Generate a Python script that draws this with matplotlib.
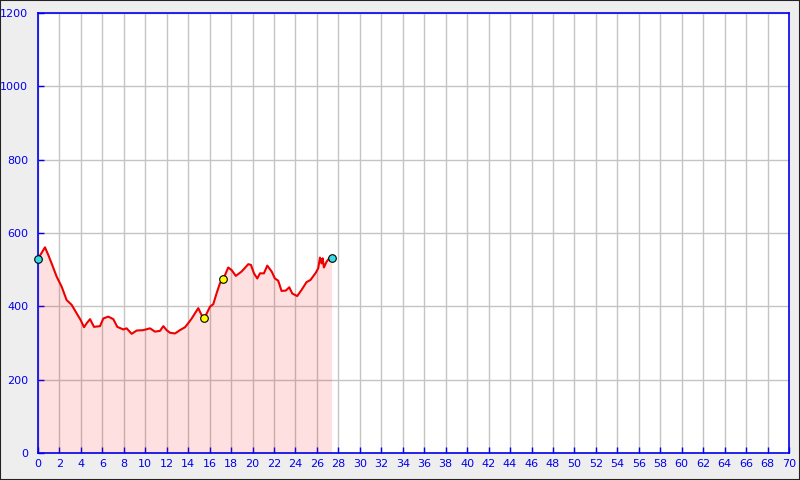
import matplotlib
matplotlib.use("Agg")
import matplotlib.pyplot as plt
from matplotlib.patches import Rectangle

# distance (km) and elevation (m) of the profile
dist = [0.0, 0.34, 0.65, 0.96, 1.27, 1.74, 2.2, 2.67, 3.14, 3.6, 3.97, 4.29,
        4.54, 4.85, 5.22, 5.78, 6.09, 6.55, 7.02, 7.39, 7.95, 8.26, 8.73,
        9.2, 9.8, 10.44, 10.9, 11.37, 11.68, 11.99, 12.3, 12.77, 13.23,
        13.7, 14.0, 14.33, 14.63, 14.94, 15.25, 15.5, 16.03, 16.34, 16.65,
        16.96, 17.27, 17.73, 18.04, 18.44, 18.98, 19.6, 19.85, 20.13, 20.44,
        20.69, 21.06, 21.37, 21.78, 22.08, 22.39, 22.7, 23.1, 23.42, 23.7,
        24.16, 24.57, 25.03, 25.4, 25.9, 26.12, 26.28, 26.43, 26.53, 26.65,
        26.9, 27.15, 27.37]
elev = [530, 546, 561, 540, 517, 481, 454, 417, 404, 381, 363, 343,
        354, 365, 344, 346, 367, 372, 365, 344, 337, 340, 325,
        334, 335, 340, 331, 333, 346, 335, 328, 326, 335,
        343, 354, 367, 381, 395, 376, 367, 399, 406, 436,
        463, 474, 506, 499, 483, 495, 515, 513, 490, 476,
        490, 490, 511, 495, 476, 470, 442, 443, 452, 435,
        428, 445, 466, 472, 492, 504, 533, 517, 531, 506,
        522, 531, 531]

# marked waypoints
end_x = [0.0, 27.37]
end_y = [530, 531]
mid_x = [15.5, 17.27]
mid_y = [367, 474]

x_ticks = list(range(0, 71, 2))
y_ticks = list(range(0, 1201, 200))

blue = "#0000ee"

fig = plt.figure(figsize=(8, 4.8), dpi=100, facecolor="#eeeeee")
fig.patches.append(Rectangle((0, 0), 1, 1, transform=fig.transFigure,
                             fill=False, edgecolor="#222222", linewidth=1.5))
ax = fig.add_axes([38 / 800, 27 / 480, 751 / 800, 440 / 480])
ax.set_facecolor("white")

# translucent fill so the grid shows through
ax.fill_between(dist, elev, 0, color="#ff0000", alpha=0.12, linewidth=0,
                zorder=1)
ax.plot(dist, elev, color="#ee0000", linewidth=1.5, zorder=3)
ax.scatter(end_x, end_y, s=30, color="#33dde8", edgecolor="black",
           linewidth=0.8, zorder=5, clip_on=False)
ax.scatter(mid_x, mid_y, s=30, color="#ffff00", edgecolor="black",
           linewidth=0.8, zorder=5, clip_on=False)

ax.set_xlim(0, 70)
ax.set_ylim(0, 1200)
ax.set_xticks(x_ticks)
ax.set_yticks(y_ticks)
ax.grid(True, color="#c4c4c4", linewidth=1)
ax.set_axisbelow(True)

for s in ax.spines.values():
    s.set_color(blue)
    s.set_linewidth(1.2)
ax.tick_params(direction="in", length=4, color=blue, labelcolor=blue,
               labelsize=8, width=1)
ax.tick_params(axis="x", pad=4)
ax.tick_params(axis="y", pad=7)

fig.savefig("out.png", dpi=100, facecolor=fig.get_facecolor())
